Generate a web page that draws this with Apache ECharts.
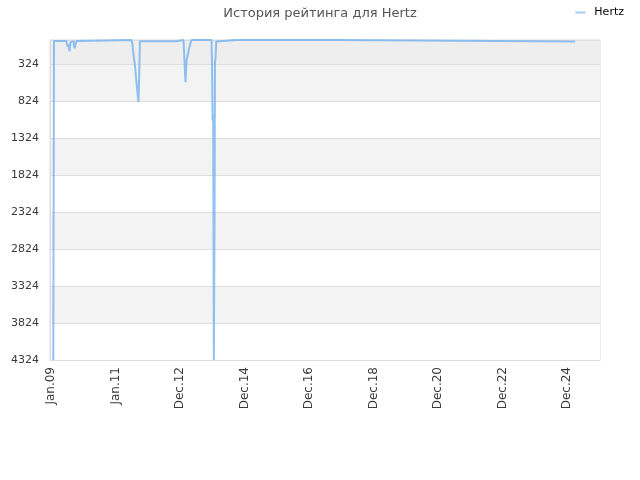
<!DOCTYPE html>
<html>
<head>
<meta charset="utf-8">
<script src="https://cdn.jsdelivr.net/npm/echarts@6/dist/echarts.min.js"></script>
<style>html,body{margin:0;padding:0;background:#fff}#c{width:640px;height:480px}</style>
</head>
<body>
<div id="c"></div>
<script>
var seriesName = 'Hertz';
var dates = [
  '2009-01-27','2009-02-04','2009-06-25','2009-07-07','2009-07-18','2009-07-29','2009-08-10',
  '2009-09-13','2009-09-24','2009-10-05','2009-10-17','2009-11-03',
  '2011-07-01','2011-07-12','2011-07-24','2011-08-10','2011-08-21','2011-09-01','2011-09-18','2011-09-27','2011-10-05',
  '2012-11-16','2012-11-27',
  '2013-02-09','2013-02-20','2013-03-03','2013-03-15','2013-03-26','2013-04-06','2013-04-17','2013-04-29','2013-05-10',
  '2013-12-23','2013-12-30','2014-01-04','2014-01-11','2014-01-18','2014-01-25','2014-01-31','2014-02-07','2014-02-14','2014-02-23',
  '2014-09-26','2014-10-07','2014-10-18',
  '2017-12-05','2017-12-10','2025-03-29'
];
var ranks = [
  4324, 15, 15, 90, 60, 150, 30,
  15, 110, 100, 15, 1,
  1, 60, 200, 350, 500, 640, 840, 430, 17,
  17, 1,
  1, 280, 570, 280, 220, 160, 90, 40, 1,
  1, 460, 1090, 1000, 4324, 2660, 300, 230, 20, 1,
  1, 20, 1,
  1, 20, 20
];
var yTickLabels = [324, 824, 1324, 1824, 2324, 2824, 3324, 3824, 4324];
var yBandEdges = [0, 324, 824, 1324, 1824, 2324, 2824, 3324, 3824, 4324];
var xTickLabels = ['Jan.09','Jan.11','Dec.12','Dec.14','Dec.16','Dec.18','Dec.20','Dec.22','Dec.24'];
var xTickStart = '2009-01-01';
var xTickStepDays = 730;
var xMinDate = '2008-12-21';
var xMaxDate = '2026-01-05';

function ts(s) { var p = s.split('-'); return Date.UTC(+p[0], +p[1] - 1, +p[2]); }
var DAY = 86400000;
var xTickValues = xTickLabels.map(function (l, i) { return ts(xTickStart) + i * xTickStepDays * DAY; });
var xMin = ts(xMinDate), xMax = ts(xMaxDate);
var data = dates.map(function (d, i) { return [ts(d), ranks[i]]; });

var chart = echarts.init(document.getElementById('c'), null, {renderer: 'canvas'});
chart.setOption({
  animation: false,
  backgroundColor: '#ffffff',
  textStyle: {fontFamily: 'DejaVu Sans'},
  title: {
    text: 'История рейтинга для Hertz',
    left: 'center', top: 2,
    textStyle: {fontSize: 13, fontWeight: 'normal', color: '#555555', fontFamily: 'DejaVu Sans'}
  },
  legend: {
    right: 16, top: 7, padding: 0,
    icon: 'rect', itemWidth: 10, itemHeight: 2,
    itemStyle: {color: '#a3caf2'},
    textStyle: {fontSize: 11, color: '#000', fontFamily: 'DejaVu Sans', padding: [0, 0, 0, 4]},
    data: [seriesName]
  },
  grid: {left: 50, right: 40, top: 40, bottom: 120, containLabel: false,
    show: true, borderColor: '#dddddd', borderWidth: 1, backgroundColor: 'transparent'},
  xAxis: {
    type: 'value',
    min: xMin, max: xMax,
    axisLine: {show: true, onZero: false, lineStyle: {color: '#dddddd'}},
    axisTick: {show: false, customValues: xTickValues},
    splitLine: {show: false},
    axisLabel: {
      customValues: xTickValues,
      rotate: 90, fontSize: 12, color: '#3a3a3a', fontFamily: 'DejaVu Sans', margin: 7,
      formatter: function (v) {
        var best = 0, bd = Infinity;
        xTickValues.forEach(function (t, i) { var d = Math.abs(t - v); if (d < bd) { bd = d; best = i; } });
        return xTickLabels[best];
      }
    }
  },
  yAxis: {
    type: 'value',
    inverse: true,
    min: 0, max: 4324,
    axisLine: {show: true, lineStyle: {color: '#dddddd'}},
    axisTick: {show: false, customValues: yBandEdges},
    axisLabel: {customValues: yTickLabels, fontSize: 11, color: '#3a3a3a', fontFamily: 'DejaVu Sans', margin: 11,
      formatter: function (v) { return String(v); }},
    splitLine: {show: true, lineStyle: {color: '#dedede', width: 1}},
    splitArea: {show: true, areaStyle: {color: ['#eeeeee','#f3f3f3','#ffffff','#f3f3f3','#ffffff','#f3f3f3','#ffffff','#f3f3f3','#ffffff']}}
  },
  series: [{
    name: seriesName,
    type: 'line',
    data: data,
    showSymbol: false,
    symbol: 'none',
    clip: false,
    color: '#a3caf2',
    lineStyle: {color: 'rgba(115,178,240,0.8)', width: 2}
  }]
});
</script>
</body>
</html>
